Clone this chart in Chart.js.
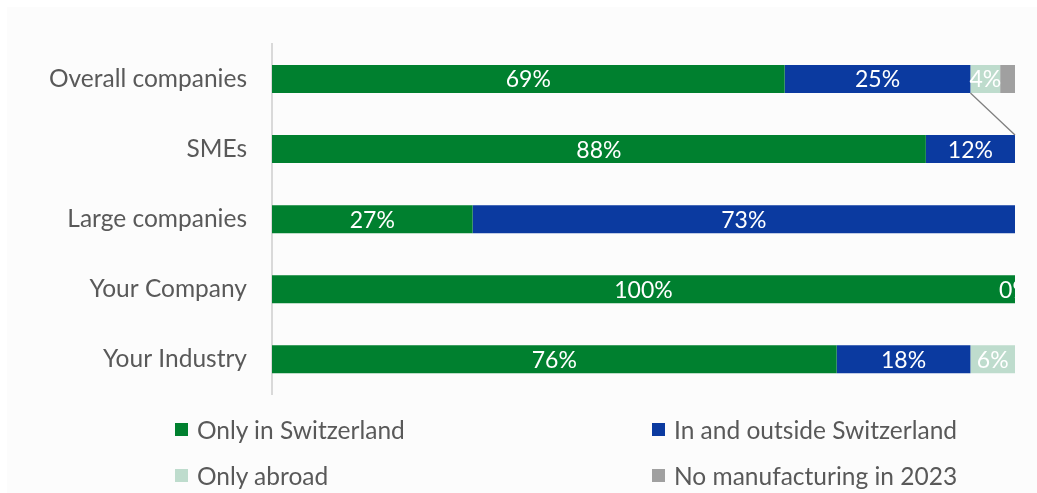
<!DOCTYPE html>
<html>
<head>
<meta charset="utf-8">
<script src="https://cdn.jsdelivr.net/npm/chart.js@4/dist/chart.umd.min.js"></script>
<style>
  html, body { margin: 0; padding: 0; background: #ffffff; }
  #panel { position: absolute; left: 7px; top: 7px; width: 1030px; height: 486px; background: #fcfcfc; }
  #wrap { position: absolute; left: 0; top: 0; width: 1037px; height: 426px; }
  #legend { position: absolute; left: 0; top: 405px; width: 1037px; height: 88px;
            font-family: Lato, "Open Sans", sans-serif; font-size: 24.5px; color: #595959; }
  .item { position: absolute; display: flex; align-items: center; white-space: nowrap; }
  .box { width: 13px; height: 13px; margin-right: 9px; }
</style>
</head>
<body>
<div id="panel"></div>
<div id="wrap"><canvas id="chart" width="1037" height="426"></canvas></div>
<div id="legend"></div>
<script>
const categories = ["Overall companies", "SMEs", "Large companies", "Your Company", "Your Industry"];
const onlySwitzerland = [69, 88, 27, 100, 76];
const inAndOutside = [25, 12, 73, 0, 18];
const onlyAbroad = [4, 0, 0, 0, 6];
const noManufacturing = [2, 0, 0, 0, 0];

const seriesNames = ["Only in Switzerland", "In and outside Switzerland", "Only abroad", "No manufacturing in 2023"];
const seriesColors = ["#00802f", "#0b3aa0", "#bedccd", "#a0a0a0"];
const showLabels = [true, true, true, false];

const FONT = "Lato, 'Open Sans', sans-serif";

// white value labels in the middle of each segment, clipped to the plot
const barLabels = {
  id: "barLabels",
  afterDatasetsDraw(chart) {
    const { ctx, chartArea } = chart;
    ctx.save();
    ctx.beginPath();
    ctx.rect(chartArea.left, chartArea.top, chartArea.right - chartArea.left, chartArea.bottom - chartArea.top);
    ctx.clip();
    ctx.font = "23px " + FONT;
    ctx.fillStyle = "#ffffff";
    ctx.textAlign = "center";
    ctx.textBaseline = "middle";
    chart.data.datasets.forEach((ds, di) => {
      if (!showLabels[di]) return;
      chart.getDatasetMeta(di).data.forEach((bar, i) => {
        const v = ds.data[i];
        // zero segments only get a label where the row is full
        if (v === 0 && !(di === 1 && i === 3)) return;
        const cx = (bar.x + bar.base) / 2;
        ctx.fillText(v + "%", cx, bar.y + 1);
      });
    });
    ctx.restore();
  }
};

// series line between the first two rows at the end of the blue segment
const seriesLine = {
  id: "seriesLine",
  afterDatasetsDraw(chart) {
    const bars = chart.getDatasetMeta(1).data;
    const a = bars[0], b = bars[1];
    const { ctx } = chart;
    ctx.save();
    ctx.strokeStyle = "#7f7f7f";
    ctx.lineWidth = 1.3;
    ctx.beginPath();
    ctx.moveTo(a.x, a.y + a.height / 2);
    ctx.lineTo(b.x, b.y - b.height / 2);
    ctx.stroke();
    ctx.restore();
  }
};

new Chart(document.getElementById("chart"), {
  type: "bar",
  data: {
    labels: categories,
    datasets: [onlySwitzerland, inAndOutside, onlyAbroad, noManufacturing].map((d, i) => ({
      label: seriesNames[i],
      data: d,
      backgroundColor: seriesColors[i],
      borderWidth: 0,
      categoryPercentage: 0.4,
      barPercentage: 1.0
    }))
  },
  options: {
    indexAxis: "y",
    responsive: false,
    animation: false,
    layout: { padding: { top: 44, bottom: 6, left: 0, right: 22 } },
    scales: {
      x: { stacked: true, min: 0, max: 100, display: false },
      y: {
        stacked: true,
        grid: { display: false },
        border: { color: "#d9d9d9", width: 2 },
        ticks: { color: "#595959", padding: 17, font: { family: FONT, size: 24.5 } },
        afterFit(scale) { scale.width = 272; }
      }
    },
    plugins: { legend: { display: false }, tooltip: { enabled: false } }
  },
  plugins: [barLabels, seriesLine]
});

// legend in two columns under the plot
const legendPos = [[175, 25], [652, 25], [175, 71], [652, 71]];
const legend = document.getElementById("legend");
seriesNames.forEach((name, i) => {
  const el = document.createElement("div");
  el.className = "item";
  el.style.left = legendPos[i][0] + "px";
  el.style.top = (legendPos[i][1] - 15) + "px";
  el.innerHTML = '<span class="box" style="background:' + seriesColors[i] + '"></span>' + name;
  legend.appendChild(el);
});
</script>
</body>
</html>
